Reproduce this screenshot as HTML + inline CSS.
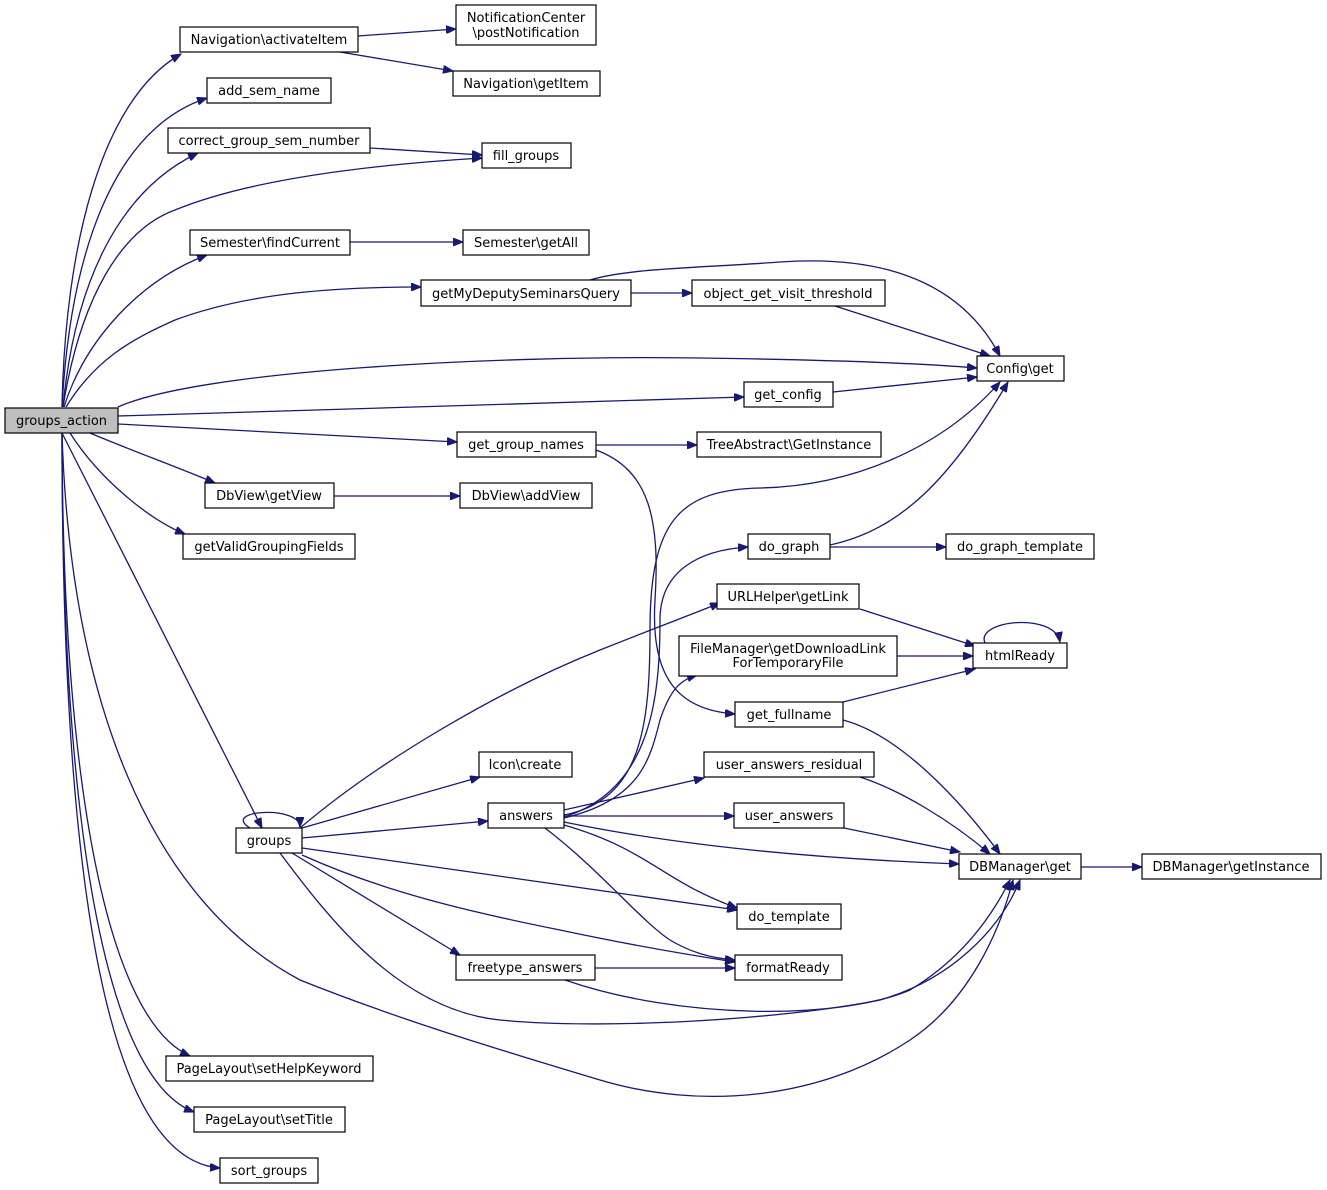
<!DOCTYPE html>
<html><head><meta charset="utf-8"><style>
html,body{margin:0;padding:0;background:#fff;}
svg{display:block;}
text{font-family:"DejaVu Sans","Liberation Sans",sans-serif;font-size:13px;fill:#000;}
.b{fill:#fff;stroke:#000;stroke-width:1.2;}
.e{fill:none;stroke:#191970;stroke-width:1.3;marker-end:url(#a);}
</style></head><body>
<svg width="1327" height="1190" viewBox="0 0 1327 1190" xmlns="http://www.w3.org/2000/svg">
<defs><marker id="a" markerWidth="11" markerHeight="8" refX="10" refY="4" orient="auto" markerUnits="userSpaceOnUse"><path d="M0,0 L10,4 L0,8 z" fill="#191970" stroke="#191970"/></marker></defs>
<g>
<path class="e" d="M62,407 C65,250 100,100 181,54"/>
<path class="e" d="M62,407 C70,260 110,130 207,98"/>
<path class="e" d="M63,407 C75,280 120,190 198,153"/>
<path class="e" d="M63,407 C80,300 120,230 175,210 C260,175 400,163 482,158"/>
<path class="e" d="M64,407 C85,340 140,280 207,255"/>
<path class="e" d="M66,407 C95,360 130,340 175,320 C250,292 340,287 421,287"/>
<path class="e" d="M118,407 C200,370 500,355 700,358 C840,360 930,364 977,368"/>
<path class="e" d="M118,416 L744,397"/>
<path class="e" d="M118,424 L457,442"/>
<path class="e" d="M90,433 C130,450 180,468 215,483"/>
<path class="e" d="M70,433 C100,480 150,520 185,534"/>
<path class="e" d="M62,433 L262,828"/>
<path class="e" d="M62,433 C70,700 150,900 300,980 C400,1020 500,1050 600,1080 C700,1110 820,1100 910,1040 C970,1000 1000,930 1013,880"/>
<path class="e" d="M62,433 C63,800 110,1020 190,1056"/>
<path class="e" d="M62,433 C62,850 110,1080 194,1112"/>
<path class="e" d="M62,433 C62,900 110,1160 220,1168"/>
<path class="e" d="M358,36 L456,29"/>
<path class="e" d="M340,52 L453,71"/>
<path class="e" d="M370,148 L482,155"/>
<path class="e" d="M350,242 L463,242"/>
<path class="e" d="M631,293 L692,293"/>
<path class="e" d="M590,280 C630,268 700,268 780,262 C880,255 960,280 1000,356"/>
<path class="e" d="M835,306 L990,356"/>
<path class="e" d="M833,392 L977,377"/>
<path class="e" d="M596,445 L697,445"/>
<path class="e" d="M596,450 C650,470 660,520 655,600 C650,680 680,710 735,714"/>
<path class="e" d="M334,496 L460,496"/>
<path class="e" d="M830,545 C900,530 950,480 1008,382"/>
<path class="e" d="M830,547 L946,547"/>
<path class="e" d="M860,609 L975,646"/>
<path class="e" d="M897,656 L973,656"/>
<path class="e" d="M843,702 L975,669"/>
<path class="e" d="M985,643 C975,620 1055,612 1060,642"/>
<path class="e" d="M843,720 C900,735 960,800 1000,854"/>
<path class="e" d="M860,777 C900,790 950,820 990,854"/>
<path class="e" d="M844,828 L960,852"/>
<path class="e" d="M1081,867 L1142,867"/>
<path class="e" d="M250,828 C220,810 300,805 300,827"/>
<path class="e" d="M300,828 C380,760 500,690 600,650 C650,630 690,615 720,603"/>
<path class="e" d="M302,828 L480,777"/>
<path class="e" d="M302,838 L488,821"/>
<path class="e" d="M302,848 L737,910"/>
<path class="e" d="M302,855 C380,890 460,910 560,930 C630,945 690,955 735,962"/>
<path class="e" d="M292,853 L460,955"/>
<path class="e" d="M280,853 C330,920 400,1010 500,1020 C600,1030 780,1020 880,1000 C950,980 1000,930 1020,880"/>
<path class="e" d="M564,815 C640,800 650,730 650,630 C650,520 680,490 760,488 C850,486 940,450 1000,382"/>
<path class="e" d="M564,817 C650,790 660,700 660,620 C660,570 700,550 748,547"/>
<path class="e" d="M564,818 C640,800 650,760 660,720 C670,690 680,680 697,675"/>
<path class="e" d="M564,810 L704,778"/>
<path class="e" d="M564,816 L734,816"/>
<path class="e" d="M564,822 C700,850 850,860 959,864"/>
<path class="e" d="M564,825 C650,850 660,880 737,908"/>
<path class="e" d="M545,828 C600,870 640,920 670,940 C690,952 710,958 735,960"/>
<path class="e" d="M595,968 L735,968"/>
<path class="e" d="M565,980 C680,1020 840,1020 910,990 C960,960 990,920 1010,880"/>
</g>
<g>
<rect x="5" y="408" width="113" height="25" style="fill:#bfbfbf;stroke:#000;stroke-width:1.2"/><text x="61.5" y="425" text-anchor="middle">groups_action</text>
<rect class="b" x="180" y="27" width="178" height="25"/><text x="269" y="44" text-anchor="middle">Navigation\activateItem</text>
<rect class="b" x="456" y="5" width="140" height="40"/><text x="526" y="22" text-anchor="middle">NotificationCenter</text><text x="526" y="37" text-anchor="middle">\postNotification</text>
<rect class="b" x="453" y="71" width="147" height="25"/><text x="526" y="88" text-anchor="middle">Navigation\getItem</text>
<rect class="b" x="207" y="78" width="124" height="25"/><text x="269" y="95" text-anchor="middle">add_sem_name</text>
<rect class="b" x="168" y="128" width="202" height="25"/><text x="269" y="145" text-anchor="middle">correct_group_sem_number</text>
<rect class="b" x="482" y="143" width="89" height="25"/><text x="526" y="160" text-anchor="middle">fill_groups</text>
<rect class="b" x="190" y="230" width="160" height="25"/><text x="270" y="247" text-anchor="middle">Semester\findCurrent</text>
<rect class="b" x="463" y="230" width="126" height="25"/><text x="526" y="247" text-anchor="middle">Semester\getAll</text>
<rect class="b" x="421" y="280" width="210" height="26"/><text x="526" y="298" text-anchor="middle">getMyDeputySeminarsQuery</text>
<rect class="b" x="692" y="280" width="193" height="26"/><text x="788" y="298" text-anchor="middle">object_get_visit_threshold</text>
<rect class="b" x="977" y="356" width="87" height="25"/><text x="1020" y="373" text-anchor="middle">Config\get</text>
<rect class="b" x="744" y="382" width="89" height="25"/><text x="788" y="399" text-anchor="middle">get_config</text>
<rect class="b" x="457" y="432" width="139" height="25"/><text x="526" y="449" text-anchor="middle">get_group_names</text>
<rect class="b" x="697" y="432" width="184" height="25"/><text x="789" y="449" text-anchor="middle">TreeAbstract\GetInstance</text>
<rect class="b" x="205" y="483" width="129" height="25"/><text x="269" y="500" text-anchor="middle">DbView\getView</text>
<rect class="b" x="460" y="483" width="132" height="25"/><text x="526" y="500" text-anchor="middle">DbView\addView</text>
<rect class="b" x="183" y="534" width="172" height="25"/><text x="269" y="551" text-anchor="middle">getValidGroupingFields</text>
<rect class="b" x="748" y="534" width="82" height="25"/><text x="789" y="551" text-anchor="middle">do_graph</text>
<rect class="b" x="946" y="534" width="148" height="25"/><text x="1020" y="551" text-anchor="middle">do_graph_template</text>
<rect class="b" x="717" y="584" width="142" height="25"/><text x="788" y="601" text-anchor="middle">URLHelper\getLink</text>
<rect class="b" x="679" y="636" width="218" height="40"/><text x="788" y="653" text-anchor="middle">FileManager\getDownloadLink</text><text x="788" y="667" text-anchor="middle">ForTemporaryFile</text>
<rect class="b" x="973" y="643" width="94" height="25"/><text x="1020" y="660" text-anchor="middle">htmlReady</text>
<rect class="b" x="735" y="702" width="108" height="25"/><text x="789" y="719" text-anchor="middle">get_fullname</text>
<rect class="b" x="479" y="752" width="93" height="25"/><text x="525" y="769" text-anchor="middle">Icon\create</text>
<rect class="b" x="704" y="752" width="170" height="25"/><text x="789" y="769" text-anchor="middle">user_answers_residual</text>
<rect class="b" x="488" y="803" width="76" height="25"/><text x="526" y="820" text-anchor="middle">answers</text>
<rect class="b" x="734" y="803" width="110" height="25"/><text x="789" y="820" text-anchor="middle">user_answers</text>
<rect class="b" x="236" y="828" width="66" height="25"/><text x="269" y="845" text-anchor="middle">groups</text>
<rect class="b" x="959" y="854" width="122" height="25"/><text x="1020" y="871" text-anchor="middle">DBManager\get</text>
<rect class="b" x="1142" y="854" width="179" height="25"/><text x="1231" y="871" text-anchor="middle">DBManager\getInstance</text>
<rect class="b" x="737" y="904" width="104" height="25"/><text x="789" y="921" text-anchor="middle">do_template</text>
<rect class="b" x="456" y="955" width="139" height="25"/><text x="525" y="972" text-anchor="middle">freetype_answers</text>
<rect class="b" x="735" y="955" width="107" height="25"/><text x="788" y="972" text-anchor="middle">formatReady</text>
<rect class="b" x="166" y="1056" width="207" height="25"/><text x="269" y="1073" text-anchor="middle">PageLayout\setHelpKeyword</text>
<rect class="b" x="194" y="1107" width="151" height="25"/><text x="269" y="1124" text-anchor="middle">PageLayout\setTitle</text>
<rect class="b" x="220" y="1158" width="98" height="25"/><text x="269" y="1175" text-anchor="middle">sort_groups</text>
</g>
</svg>
</body></html>
